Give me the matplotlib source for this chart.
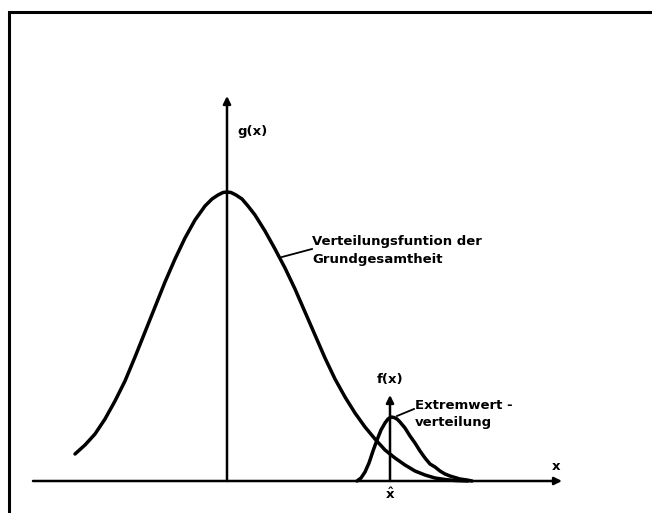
import matplotlib
matplotlib.use("Agg")
import matplotlib.pyplot as plt

# Population distribution g(x): positions and heights
g_x = [75, 85, 95, 105, 115, 125, 135, 145, 155, 165, 175, 185, 195, 205, 212, 218, 223, 227,
       231, 236, 242, 248, 255, 265, 275, 285, 295, 305, 315, 325, 335, 345, 355, 365, 375, 385,
       395, 405, 415, 425, 435, 445, 455, 468]
g_y = [27, 36, 47, 62, 80, 100, 124, 149, 174, 199, 222, 243, 261, 275, 282, 286, 288.5, 289,
       288.5, 286, 282, 275, 266, 250, 232, 213, 192, 169, 146, 123, 102, 84, 68, 54, 42, 31,
       23, 16, 10, 6, 3, 1.5, 0.5, 0]

# Extreme value distribution f(x)
f_x = [357, 361, 365, 369, 373, 377, 381, 385, 388, 391, 394, 397, 400, 405, 410, 415, 420,
       425, 430, 435, 440, 445, 450, 455, 460, 467, 472]
f_y = [0, 3, 9, 18, 30, 41, 51, 58, 62, 64, 63.5, 62, 59, 53, 45, 38, 30,
       23, 17, 14, 10, 7, 5, 3.5, 2, 1, 0]

x_axis_start, x_axis_end = 33, 562
g_axis_pos, g_axis_top = 227, 385
f_axis_pos, f_axis_top = 390, 86

label_g = "g(x)"
label_f = "f(x)"
label_x = "x"
label_xhat = r"$\hat{x}$"
text_g = "Verteilungsfuntion der\nGrundgesamtheit"
text_f = "Extremwert -\nverteilung"

plt.rcParams["font.family"] = ["DejaVu Sans"]
plt.rcParams["mathtext.fontset"] = "custom"
plt.rcParams["mathtext.it"] = "DejaVu Sans:bold"
plt.rcParams["mathtext.rm"] = "DejaVu Sans:bold"

fig = plt.figure(figsize=(6.52, 5.13), dpi=100)
ax = fig.add_axes([0, 0, 1, 1])
ax.set_xlim(0, 652)
ax.set_ylim(-32, 481)
ax.axis("off")

# frame (top and left)
ax.plot([9, 9, 652], [-40, 469, 469], color="black", lw=2.2, solid_capstyle="butt",
        solid_joinstyle="miter")

# curves
ax.plot(g_x, g_y, color="black", lw=2.5, solid_capstyle="round", solid_joinstyle="round")
ax.plot(f_x, f_y, color="black", lw=2.5, solid_capstyle="round", solid_joinstyle="round")

# axes with arrows
arr = dict(arrowstyle="-|>", color="black", lw=1.8, mutation_scale=11,
           shrinkA=0, shrinkB=0)
ax.annotate("", xy=(x_axis_end, 0), xytext=(x_axis_start, 0), arrowprops=arr)
ax.annotate("", xy=(g_axis_pos, g_axis_top), xytext=(g_axis_pos, 0), arrowprops=arr)
ax.annotate("", xy=(f_axis_pos, f_axis_top), xytext=(f_axis_pos, 0), arrowprops=arr)

# labels
fs = 9.5
ax.text(237, 481 - 131, label_g, fontsize=fs, fontweight="bold", ha="left", va="center")
ax.text(f_axis_pos, 481 - 380, label_f, fontsize=fs, fontweight="bold", ha="center", va="center")
ax.text(556, 481 - 467, label_x, fontsize=fs, fontweight="bold", ha="center", va="center")
ax.text(f_axis_pos, 481 - 494, label_xhat, fontsize=fs, ha="center", va="center")

ax.text(312, 481 - 251, text_g, fontsize=fs, fontweight="bold", ha="left", va="center",
        linespacing=1.5)
ax.plot([282, 312], [481 - 257, 481 - 249], color="black", lw=1.3)

ax.text(415, 481 - 414, text_f, fontsize=fs, fontweight="bold", ha="left", va="center",
        linespacing=1.45)
ax.plot([397, 414], [481 - 416, 481 - 409], color="black", lw=1.3)

fig.savefig("out.png", dpi=100)
